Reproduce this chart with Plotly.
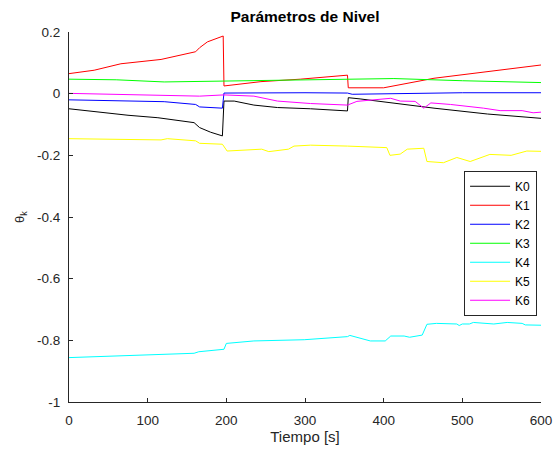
import plotly.graph_objects as go

# ---- data ----
t_k0 = [0, 30, 75, 113, 159, 166, 180, 195, 197, 210, 235, 265, 307, 354, 355, 370, 408, 464, 532, 600]
v_k0 = [-0.049, -0.058, -0.070, -0.078, -0.094, -0.110, -0.125, -0.137, -0.024, -0.024, -0.037, -0.045,
        -0.049, -0.056, -0.013, -0.017, -0.029, -0.047, -0.066, -0.080]

t_k1 = [0, 32, 66, 117, 161, 166, 176, 196, 197, 244, 294, 307, 354, 355, 400, 464, 514, 600]
v_k1 = [0.065, 0.076, 0.097, 0.111, 0.136, 0.149, 0.168, 0.187, 0.025, 0.039, 0.047, 0.050, 0.060,
        0.019, 0.019, 0.050, 0.066, 0.093]

t_k2 = [0, 121, 161, 166, 195, 197, 300, 354, 360, 500, 600]
v_k2 = [-0.020, -0.026, -0.035, -0.043, -0.047, 0.002, 0.003, 0.002, -0.002, 0.003, 0.003]

t_k3 = [0, 60, 121, 197, 294, 413, 500, 600]
v_k3 = [0.047, 0.045, 0.038, 0.041, 0.043, 0.049, 0.042, 0.036]

t_k4 = [0, 80, 159, 165, 197, 200, 231, 235, 299, 354, 357, 383, 402, 409, 426, 433, 449, 455, 467,
        493, 496, 500, 509, 514, 540, 557, 576, 580, 600]
v_k4 = [-0.856, -0.850, -0.842, -0.837, -0.829, -0.810, -0.804, -0.802, -0.798, -0.788, -0.784, -0.802,
        -0.802, -0.786, -0.786, -0.790, -0.783, -0.748, -0.745, -0.747, -0.752, -0.747, -0.747, -0.742,
        -0.747, -0.742, -0.745, -0.750, -0.751]

t_k5 = [0, 60, 117, 125, 161, 166, 195, 201, 245, 254, 279, 286, 307, 354, 404, 408, 421, 430, 451,
        455, 476, 493, 510, 535, 562, 582, 600]
v_k5 = [-0.146, -0.147, -0.150, -0.146, -0.153, -0.161, -0.164, -0.186, -0.180, -0.188, -0.180, -0.170,
        -0.167, -0.170, -0.175, -0.200, -0.196, -0.180, -0.177, -0.220, -0.224, -0.207, -0.220, -0.197,
        -0.200, -0.186, -0.187]

t_k6 = [0, 117, 166, 197, 235, 265, 307, 354, 366, 409, 421, 440, 451, 460, 485, 527, 548, 576, 590, 600]
v_k6 = [0.001, -0.004, -0.008, -0.004, -0.008, -0.024, -0.032, -0.037, -0.025, -0.015, -0.024, -0.025,
        -0.047, -0.030, -0.035, -0.047, -0.055, -0.055, -0.062, -0.060]

names = ["K0", "K1", "K2", "K3", "K4", "K5", "K6"]
colors = ["#000000", "#ff0000", "#0000ff", "#00ff00", "#00ffff", "#ffff00", "#ff00ff"]
x_ticks = [0, 100, 200, 300, 400, 500, 600]
y_ticks = [0.2, 0, -0.2, -0.4, -0.6, -0.8, -1]
y_tick_text = ["0.2", "0", "-0.2", "-0.4", "-0.6", "-0.8", "-1"]

series = [(t_k0, v_k0), (t_k1, v_k1), (t_k2, v_k2), (t_k3, v_k3), (t_k4, v_k4), (t_k5, v_k5), (t_k6, v_k6)]

fig = go.Figure()
for (t, v), n, c in zip(series, names, colors):
    fig.add_trace(go.Scatter(x=t, y=v, mode="lines", name=n, line=dict(color=c, width=1)))

axis_col = "#262626"
fig.update_layout(
    width=554, height=451,
    margin=dict(l=69, r=13, t=32, b=48.5, autoexpand=False),
    paper_bgcolor="white", plot_bgcolor="white",
    font=dict(family="Liberation Sans, Arial, sans-serif", size=13.5, color=axis_col),
    title=dict(text="<b>Parámetros de Nivel</b>", x=0.5, xref="paper", xanchor="center",
               y=1 - 17 / 451, yref="container", yanchor="middle",
               font=dict(size=15.5, color="#000000")),
    xaxis=dict(range=[0, 600], tickvals=x_ticks, showgrid=False, zeroline=False, automargin=False,
               showline=True, linecolor=axis_col, linewidth=1, ticks="inside", ticklen=4,
               tickcolor=axis_col, ticklabelstandoff=6,
               title=dict(text="Tiempo [s]", font=dict(size=15), standoff=4)),
    yaxis=dict(range=[-1, 0.2], tickvals=y_ticks, ticktext=y_tick_text, showgrid=False, zeroline=False,
               automargin=False, showline=True, linecolor=axis_col, linewidth=1, ticks="inside",
               ticklen=4, tickcolor=axis_col, ticklabelstandoff=5),
    legend=dict(x=0.837, y=0.625, xanchor="left", yanchor="top", bgcolor="white",
                bordercolor=axis_col, borderwidth=1, font=dict(size=12, color="#000000"),
                tracegroupgap=0, itemwidth=40),
    showlegend=True,
    hovermode=False,
    annotations=[dict(text="θ<sub>k</sub>", xref="paper", yref="paper", x=-0.104, y=0.5,
                      xanchor="center", yanchor="middle", textangle=-90, showarrow=False,
                      font=dict(size=13, color=axis_col))],
)

fig.write_html("out.html", config={"displayModeBar": False, "staticPlot": True},
               post_script="document.body.style.margin='0';")
